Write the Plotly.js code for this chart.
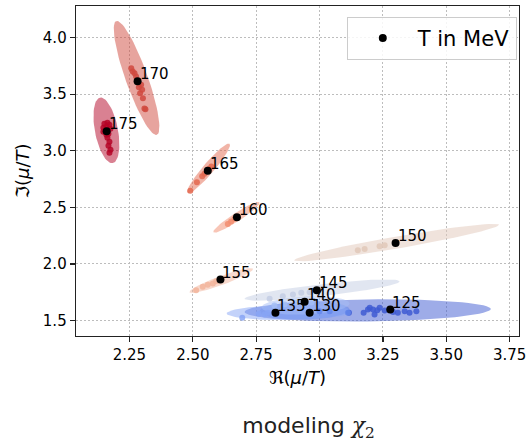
<!DOCTYPE html>
<html>
<head>
<meta charset="utf-8">
<script src="https://cdn.plot.ly/plotly-3.0.1.min.js"></script>
<style>
  html, body { margin: 0; padding: 0; background: #fff; }
  #chart { width: 528px; height: 442px; }
</style>
</head>
<body>
<div id="chart"></div>
<script>
// Temperatures (MeV) of each fitted point
const temps = [125, 130, 135, 140, 145, 150, 155, 160, 165, 170, 175];

// Best-fit chemical potential at each temperature
const bestRe = [3.279, 2.961, 2.826, 2.941, 2.989, 3.300, 2.609, 2.674, 2.559, 2.282, 2.160];
const bestIm = [1.597, 1.568, 1.568, 1.665, 1.768, 2.186, 1.862, 2.412, 2.824, 3.615, 3.172];

// Confidence ellipses: centre, semi-major and semi-minor axis vectors
const ellRe    = [3.190, 2.941, 2.882, 2.945, 3.010, 3.304, 2.612, 2.672, 2.562, 2.278, 2.159];
const ellIm    = [1.589, 1.589, 1.571, 1.633, 1.769, 2.189, 1.853, 2.412, 2.844, 3.644, 3.181];
const ellMajRe = [0.4856, 0.1777, 0.2487, 0.1737, 0.3060, 0.4039, 0.1251, 0.0908, 0.0829, 0.0801, 0.0249];
const ellMajIm = [0.0132, 0.0088, 0.0088, 0.0176, 0.0776, 0.1571, 0.1032, 0.1324, 0.2179, -0.5030, -0.2894];
const ellMinRe = [0.0005, 0.0008, 0.0004, 0.0014, 0.0027, 0.0041, 0.0062, 0.0091, 0.0165, 0.0409, 0.0446];
const ellMinIm = [-0.0971, -0.0794, -0.0662, -0.0794, -0.0526, -0.0522, -0.0372, -0.0310, -0.0314, 0.0326, 0.0191];

// Individual fit samples per temperature (same order as temps)
const sampleRe = [
  [3.116, 3.174, 3.191, 3.211, 3.217, 3.237, 3.257, 3.309, 3.336, 3.355, 3.382, 3.198, 3.228, 3.290],
  [3.000, 3.040, 3.112],
  [2.695, 2.783, 2.796, 2.816, 2.760],
  [2.822, 2.862, 2.913, 2.968],
  [2.803, 2.855, 2.895, 2.928, 2.961],
  [3.151, 3.178, 3.237, 3.257],
  [2.513, 2.539, 2.559, 2.579, 2.592],
  [2.638, 2.651, 2.665],
  [2.490, 2.516, 2.537, 2.546, 2.563, 2.573],
  [2.257, 2.270, 2.276, 2.296, 2.300, 2.292, 2.303, 2.313, 2.263, 2.287, 2.309],
  [2.151, 2.163, 2.171, 2.147, 2.159, 2.175, 2.155, 2.167, 2.163, 2.171, 2.167, 2.175, 2.171, 2.159, 2.147]
];
const sampleIm = [
  [1.568, 1.568, 1.597, 1.597, 1.553, 1.612, 1.588, 1.568, 1.582, 1.568, 1.582, 1.612, 1.590, 1.575],
  [1.582, 1.582, 1.568],
  [1.524, 1.553, 1.568, 1.553, 1.560],
  [1.633, 1.641, 1.659, 1.659],
  [1.692, 1.715, 1.730, 1.745, 1.750],
  [2.121, 2.133, 2.156, 2.165],
  [1.768, 1.798, 1.815, 1.827, 1.847],
  [2.353, 2.376, 2.400],
  [2.647, 2.721, 2.774, 2.797, 2.839, 2.862],
  [3.730, 3.686, 3.656, 3.583, 3.539, 3.509, 3.465, 3.368, 3.700, 3.562, 3.375],
  [3.239, 3.247, 3.230, 3.203, 3.212, 3.194, 3.177, 3.150, 3.115, 3.079, 3.044, 3.009, 2.982, 3.141, 3.168]
];

// Colour per temperature, cool to warm
const tempColors = [
  [62, 90, 210], [100, 135, 235], [135, 165, 245], [165, 190, 245], [195, 205, 228],
  [225, 200, 185], [242, 180, 155], [242, 140, 110], [228, 105, 80], [208, 73, 62], [180, 4, 38]
];

const rgba = (c, a) => `rgba(${c[0]},${c[1]},${c[2]},${a})`;

const traces = [];

// Ellipses
temps.forEach((T, i) => {
  const xs = [], ys = [];
  const n = 72;
  for (let k = 0; k <= n; k++) {
    const t = 2 * Math.PI * k / n;
    xs.push(ellRe[i] + ellMajRe[i] * Math.cos(t) + ellMinRe[i] * Math.sin(t));
    ys.push(ellIm[i] + ellMajIm[i] * Math.cos(t) + ellMinIm[i] * Math.sin(t));
  }
  traces.push({
    x: xs, y: ys, type: 'scatter', mode: 'lines', fill: 'toself',
    fillcolor: rgba(tempColors[i], 0.5), line: { width: 0 },
    hoverinfo: 'skip', showlegend: false
  });
});

// Samples
temps.forEach((T, i) => {
  traces.push({
    x: sampleRe[i], y: sampleIm[i], type: 'scatter', mode: 'markers',
    marker: { size: 6, color: rgba(tempColors[i], 0.85) },
    hoverinfo: 'skip', showlegend: false
  });
});

// Best-fit points
traces.push({
  x: bestRe, y: bestIm, type: 'scatter', mode: 'markers',
  marker: { size: 8, color: '#000' },
  name: 'T in MeV', showlegend: true
});

const annotations = temps.map((T, i) => ({
  x: bestRe[i], y: bestIm[i], xref: 'x', yref: 'y',
  text: String(T), showarrow: false,
  xanchor: 'left', yanchor: 'bottom', xshift: 0, yshift: -4,
  font: { family: 'DejaVu Sans', size: 15, color: '#000' }
}));

const axisCommon = {
  showgrid: true, gridcolor: '#bdbdbd', griddash: '1.5px,2.5px', gridwidth: 1,
  zeroline: false, showline: true, linecolor: '#222', linewidth: 1.3, mirror: true,
  ticks: 'outside', ticklen: 5, tickwidth: 1.2, tickcolor: '#222',
  tickfont: { family: 'DejaVu Sans', size: 15, color: '#000' }
};

const layout = {
  width: 528, height: 442,
  margin: { l: 76, r: 9, t: 6, b: 106 },
  paper_bgcolor: '#fff', plot_bgcolor: '#fff',
  font: { family: 'DejaVu Sans', color: '#000' },
  title: {
    text: 'modeling <span style="font-family:DejaVu Serif"><i>χ</i><sub>2</sub></span>',
    font: { family: 'DejaVu Sans', size: 22, color: '#222' },
    x: 0.525, xanchor: 'center', xref: 'paper',
    y: 0.02, yanchor: 'bottom', yref: 'container'
  },
  xaxis: Object.assign({}, axisCommon, {
    range: [2.039, 3.787],
    tickvals: [2.25, 2.5, 2.75, 3.0, 3.25, 3.5, 3.75],
    ticktext: ['2.25', '2.50', '2.75', '3.00', '3.25', '3.50', '3.75'],
    title: { text: 'ℜ(<i>μ</i>/<i>T</i>)', font: { family: 'DejaVu Sans', size: 18 }, standoff: 8 }
  }),
  yaxis: Object.assign({}, axisCommon, {
    range: [1.363, 4.28],
    tickvals: [1.5, 2.0, 2.5, 3.0, 3.5, 4.0],
    ticktext: ['1.5', '2.0', '2.5', '3.0', '3.5', '4.0'],
    title: { text: 'ℑ(<i>μ</i>/<i>T</i>)', font: { family: 'DejaVu Sans', size: 18 }, standoff: 8 }
  }),
  showlegend: true,
  legend: {
    x: 0.995, y: 0.967, xanchor: 'right', yanchor: 'top',
    bgcolor: 'rgba(255,255,255,0.85)', bordercolor: '#cccccc', borderwidth: 1,
    font: { family: 'DejaVu Sans', size: 21, color: '#000' },
    itemwidth: 60
  },
  annotations: annotations
};

Plotly.newPlot('chart', traces, layout, { displayModeBar: false, staticPlot: true });
</script>
</body>
</html>
